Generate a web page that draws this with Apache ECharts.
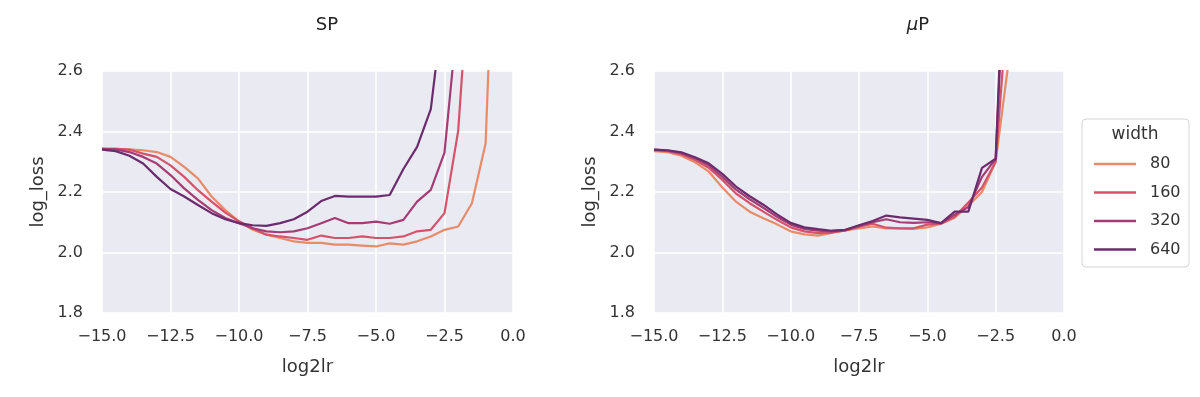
<!DOCTYPE html>
<html lang="en">

<head>
    <meta charset="UTF-8">
    <title>SP vs muP</title>
    <script src="https://cdn.jsdelivr.net/npm/echarts@6/dist/echarts.min.js"></script>
    <style>
        body { margin: 0; background: #fff; }
    </style>
</head>

<body>
    <div id="main" style="width: 1200px;height:397px;"></div>
    <script type="text/javascript">
    // log2 learning rate sweep (step 0.5)
    const log2lr = [];
    for (let i = 0; i <= 30; i++) log2lr.push(-15 + i * 0.5);

    const widths = ['80', '160', '320', '640'];
    const colors = ['#e88b69', '#d5536a', '#a53c74', '#6b2c6e'];

    // SP panel
    const sp80 = [2.343, 2.343, 2.341, 2.338, 2.332, 2.316, 2.283, 2.245, 2.185, 2.14, 2.103, 2.075, 2.059, 2.048, 2.037, 2.032, 2.032, 2.026, 2.026, 2.023, 2.02, 2.03, 2.026, 2.037, 2.053, 2.075, 2.086, 2.163, 2.36, 3.56];
    const sp160 = [2.343, 2.343, 2.34, 2.327, 2.316, 2.288, 2.25, 2.206, 2.168, 2.132, 2.103, 2.08, 2.059, 2.053, 2.048, 2.042, 2.056, 2.048, 2.048, 2.053, 2.048, 2.048, 2.053, 2.07, 2.075, 2.13, 2.403, 3.06];
    const sp320 = [2.343, 2.341, 2.332, 2.316, 2.294, 2.256, 2.212, 2.174, 2.14, 2.114, 2.097, 2.08, 2.07, 2.067, 2.07, 2.08, 2.097, 2.114, 2.097, 2.097, 2.102, 2.095, 2.108, 2.168, 2.207, 2.33, 2.8];
    const sp640 = [2.34, 2.335, 2.32, 2.294, 2.25, 2.21, 2.185, 2.157, 2.13, 2.11, 2.097, 2.09, 2.088, 2.097, 2.11, 2.135, 2.17, 2.187, 2.185, 2.185, 2.185, 2.19, 2.276, 2.349, 2.474, 2.85];

    // muP panel
    const mup80 = [2.335, 2.332, 2.32, 2.298, 2.268, 2.215, 2.168, 2.135, 2.113, 2.093, 2.07, 2.06, 2.056, 2.065, 2.073, 2.08, 2.086, 2.08, 2.08, 2.078, 2.083, 2.095, 2.115, 2.155, 2.2, 2.3, 2.65, 3.5];
    const mup160 = [2.338, 2.335, 2.325, 2.306, 2.28, 2.24, 2.195, 2.163, 2.135, 2.108, 2.083, 2.07, 2.064, 2.066, 2.073, 2.085, 2.095, 2.082, 2.08, 2.08, 2.092, 2.095, 2.118, 2.165, 2.215, 2.3, 2.9];
    const mup320 = [2.34, 2.337, 2.329, 2.312, 2.288, 2.25, 2.208, 2.176, 2.148, 2.118, 2.092, 2.078, 2.072, 2.07, 2.074, 2.088, 2.1, 2.11, 2.1, 2.098, 2.1, 2.097, 2.125, 2.15, 2.25, 2.31, 3.3];
    const mup640 = [2.34, 2.338, 2.331, 2.315, 2.295, 2.26, 2.218, 2.186, 2.158, 2.126, 2.098, 2.083, 2.077, 2.072, 2.075, 2.09, 2.104, 2.122, 2.116, 2.112, 2.108, 2.097, 2.135, 2.135, 2.28, 2.31, 3.41];

    const yTicks = [1.8, 2.0, 2.2, 2.4, 2.6];
    const xTicks = [-15, -12.5, -10, -7.5, -5, -2.5, 0];

    const font = 'DejaVu Sans, sans-serif';
    const tickColor = '#333';

    function pairs(vals) {
      return vals.map((v, i) => [log2lr[i], v]);
    }

    function xAxis(idx) {
      return {
        type: 'value', gridIndex: idx,
        min: xTicks[0], max: xTicks[xTicks.length - 1], interval: 2.5,
        name: 'log2lr', nameLocation: 'middle', nameGap: 45,
        nameTextStyle: { color: tickColor, fontSize: 18, fontFamily: font },
        axisLine: { show: false }, axisTick: { show: false },
        axisLabel: {
          color: tickColor, fontSize: 16, fontFamily: font, margin: 16,
          formatter: v => v.toFixed(1).replace('-', '\u2212')
        },
        splitLine: { lineStyle: { color: '#fff', width: 1.5 } }
      };
    }

    function yAxis(idx) {
      return {
        type: 'value', gridIndex: idx,
        min: yTicks[0], max: yTicks[yTicks.length - 1], interval: 0.2,
        name: 'log_loss', nameLocation: 'middle', nameGap: 55, nameRotate: 90,
        nameTextStyle: { color: tickColor, fontSize: 18, fontFamily: font },
        axisLine: { show: false }, axisTick: { show: false },
        axisLabel: {
          color: tickColor, fontSize: 16, fontFamily: font, margin: 19,
          formatter: v => v.toFixed(1)
        },
        splitLine: { lineStyle: { color: '#fff', width: 1.5 } }
      };
    }

    const spData = [sp80, sp160, sp320, sp640];
    const mupData = [mup80, mup160, mup320, mup640];
    const series = [];
    [spData, mupData].forEach((panel, p) => {
      panel.forEach((vals, k) => {
        series.push({
          name: widths[k], type: 'line',
          xAxisIndex: p, yAxisIndex: p,
          data: pairs(vals),
          symbol: 'none', clip: true,
          lineStyle: { color: colors[k], width: 2.2 },
          itemStyle: { color: colors[k] },
          z: 2 + k
        });
      });
    });

    const chart = echarts.init(document.getElementById('main'));
    chart.setOption({
      animation: false,
      grid: [
        { left: 102, right: 687, top: 71, bottom: 84, backgroundColor: '#eaeaf2', show: true, borderWidth: 0 },
        { left: 654, right: 136, top: 71, bottom: 84, backgroundColor: '#eaeaf2', show: true, borderWidth: 0 }
      ],
      xAxis: [xAxis(0), xAxis(1)],
      yAxis: [yAxis(0), yAxis(1)],
      legend: {
        data: widths, orient: 'vertical',
        left: 1089, top: 151,
        icon: 'rect', itemWidth: 42, itemHeight: 2.5, itemGap: 12.5,
        textStyle: { color: tickColor, fontSize: 16, fontFamily: font, padding: [0, 0, 0, 9] }
      },
      graphic: [
        { type: 'text', x: 327, y: 25, style: { text: 'SP', font: '18px ' + font, fill: '#222', textAlign: 'center', textVerticalAlign: 'middle' } },
        { type: 'text', x: 918, y: 25, style: { text: '{m|μ}P', font: '18px ' + font, fill: '#222', textAlign: 'center', textVerticalAlign: 'middle', rich: { m: { fontStyle: 'italic', fontSize: 18, fontFamily: font, fill: '#222' } } } },
        { type: 'rect', shape: { x: 1082, y: 119, width: 107, height: 148, r: 4 }, style: { fill: '#fff', stroke: '#d5d5d5', lineWidth: 1 }, z: -1 },
        { type: 'text', x: 1135, y: 135, style: { text: 'width', font: '17px ' + font, fill: tickColor, textAlign: 'center', textVerticalAlign: 'middle' } }
      ],
      series: series
    });
    </script>
</body>

</html>
